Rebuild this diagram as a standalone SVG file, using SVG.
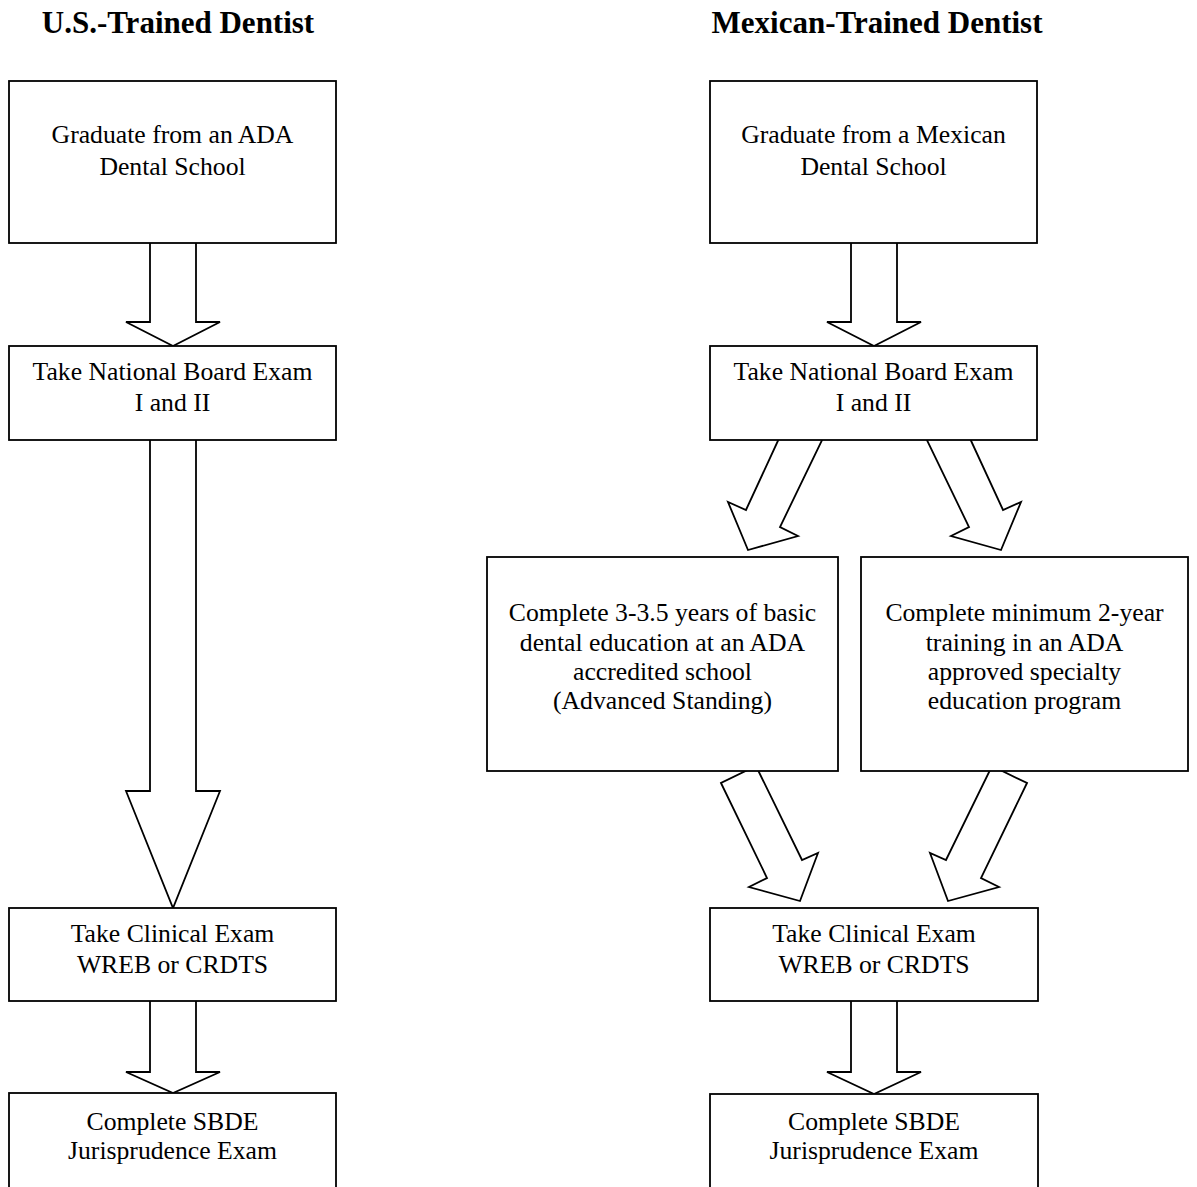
<svg xmlns="http://www.w3.org/2000/svg" width="1197" height="1187" viewBox="0 0 1197 1187">
<style>
.box{fill:#fff;stroke:#000;stroke-width:1.8}
.arr{fill:#fff;stroke:#000;stroke-width:1.8;stroke-linejoin:miter}
.t{font-family:"Liberation Serif","Times New Roman",serif;font-size:25.7px;fill:#000;text-anchor:middle}
.h{font-family:"Liberation Serif","Times New Roman",serif;font-size:31px;font-weight:bold;fill:#000;text-anchor:middle}
</style>
<rect width="1197" height="1187" fill="#fff"/>
<g id="titles">
<text class="h" x="178" y="33">U.S.-Trained Dentist</text>
<text class="h" x="877" y="33">Mexican-Trained Dentist</text>
</g>
<g id="connectors">
<polygon class="arr" points="150,240 150,322 126,322 173,346 220,322 196,322 196,240"/>
<polygon class="arr" points="150,437 150,791 126,791 173,908 220,791 196,791 196,437"/>
<polygon class="arr" points="150,998 150,1072 126,1072 173,1093 220,1072 196,1072 196,998"/>
<polygon class="arr" points="851,240 851,322 827,322 874,346 921,322 897,322 897,240"/>
<polygon class="arr" points="851,998 851,1072 827,1072 874,1094 921,1072 897,1072 897,998"/>
<polygon class="arr" points="782,432 746,510 728,502 748,550 798,536 780,527 826,432"/>
<polygon class="arr" points="967,432 1003,510 1021,502 1001,550 951,536 969,527 923,432"/>
<polygon class="arr" points="721,783 767,878 749,887 800,901 818,853 802,860 756,766"/>
<polygon class="arr" points="1027,783 981,878 999,887 948,901 930,853 946,860 992,766"/>
</g>
<g id="us-graduate">
<rect class="box" x="9" y="81" width="327" height="162"/>
<text class="t" x="172.5" y="143">Graduate from an ADA</text>
<text class="t" x="172.5" y="175">Dental School</text>
</g>
<g id="us-national-board">
<rect class="box" x="9" y="346" width="327" height="94"/>
<text class="t" x="172.5" y="380">Take National Board Exam</text>
<text class="t" x="172.5" y="411">I and II</text>
</g>
<g id="us-clinical">
<rect class="box" x="9" y="908" width="327" height="93"/>
<text class="t" x="172.5" y="942">Take Clinical Exam</text>
<text class="t" x="172.5" y="973">WREB or CRDTS</text>
</g>
<g id="us-jurisprudence">
<rect class="box" x="9" y="1093" width="327" height="110"/>
<text class="t" x="172.5" y="1130">Complete SBDE</text>
<text class="t" x="172.5" y="1159">Jurisprudence Exam</text>
</g>
<g id="mx-graduate">
<rect class="box" x="710" y="81" width="327" height="162"/>
<text class="t" x="873.5" y="143">Graduate from a Mexican</text>
<text class="t" x="873.5" y="175">Dental School</text>
</g>
<g id="mx-national-board">
<rect class="box" x="710" y="346" width="327" height="94"/>
<text class="t" x="873.5" y="380">Take National Board Exam</text>
<text class="t" x="873.5" y="411">I and II</text>
</g>
<g id="mx-advanced-standing">
<rect class="box" x="487" y="557" width="351" height="214"/>
<text class="t" x="662.5" y="621">Complete 3-3.5 years of basic</text>
<text class="t" x="662.5" y="651">dental education at an ADA</text>
<text class="t" x="662.5" y="680">accredited school</text>
<text class="t" x="662.5" y="709">(Advanced Standing)</text>
</g>
<g id="mx-specialty">
<rect class="box" x="861" y="557" width="327" height="214"/>
<text class="t" x="1024.5" y="621">Complete minimum 2-year</text>
<text class="t" x="1024.5" y="651">training in an ADA</text>
<text class="t" x="1024.5" y="680">approved specialty</text>
<text class="t" x="1024.5" y="709">education program</text>
</g>
<g id="mx-clinical">
<rect class="box" x="710" y="908" width="328" height="93"/>
<text class="t" x="874" y="942">Take Clinical Exam</text>
<text class="t" x="874" y="973">WREB or CRDTS</text>
</g>
<g id="mx-jurisprudence">
<rect class="box" x="710" y="1094" width="328" height="110"/>
<text class="t" x="874" y="1130">Complete SBDE</text>
<text class="t" x="874" y="1159">Jurisprudence Exam</text>
</g>
</svg>
